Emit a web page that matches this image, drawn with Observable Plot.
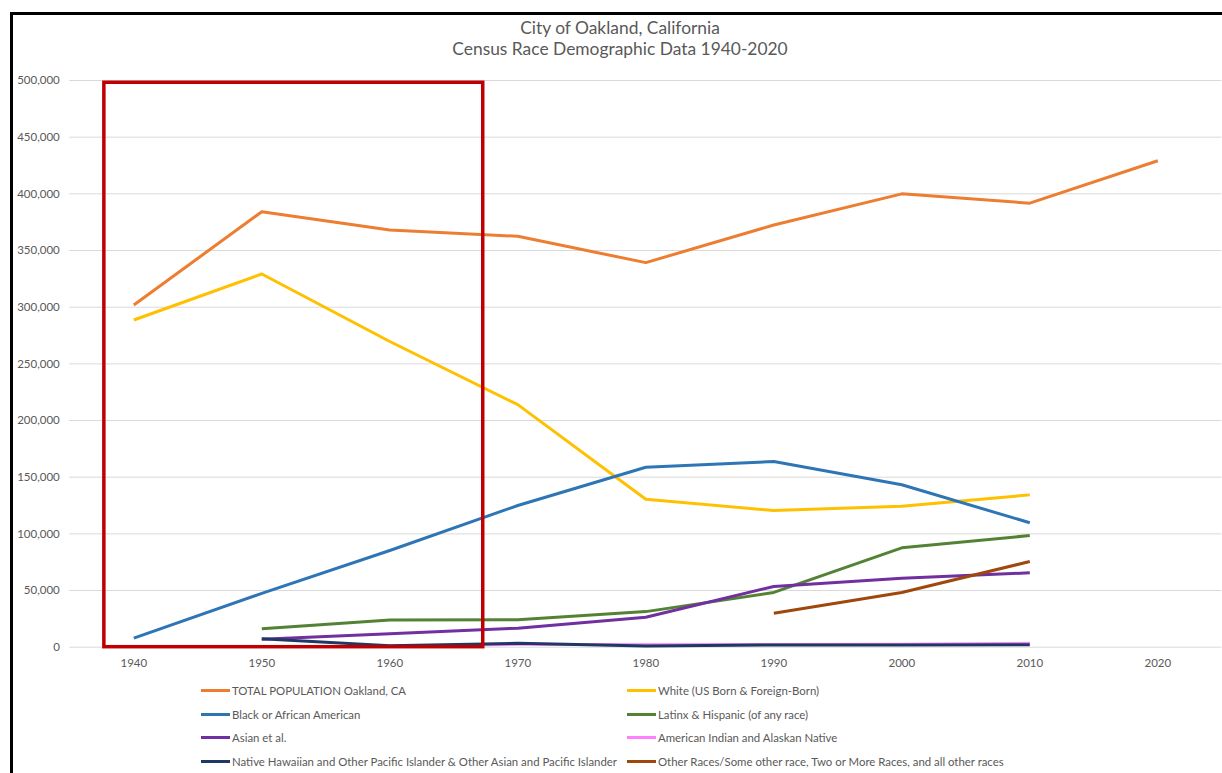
<!DOCTYPE html>
<html>
<head>
<meta charset="utf-8">
<script src="https://cdn.jsdelivr.net/npm/d3@7"></script>
<script src="https://cdn.jsdelivr.net/npm/@observablehq/plot@0.6"></script>
<style>
  html, body { margin: 0; padding: 0; background: #fff; }
  #page { position: relative; width: 1222px; height: 773px; overflow: hidden; background: #fff;
          font-family: Lato, "Open Sans", sans-serif; color: #595959; }
  #chart { position: absolute; left: 0; top: 0; }
  #frame { position: absolute; left: 10px; top: 12px; width: 1400px; height: 900px;
           border-left: 3px solid #000; border-top: 3px solid #000; pointer-events: none; }
  #title { position: absolute; left: 0; top: 17px; width: 1240px; text-align: center;
           font-size: 17.4px; line-height: 21px; }
  .item { position: absolute; height: 16px; display: flex; align-items: center;
          font-size: 11.4px; white-space: nowrap; }
  .swatch { width: 29px; height: 3px; margin-right: 2px; }
</style>
</head>
<body>
<div id="page">
  <div id="chart"></div>
  <div id="title">City of Oakland, California<br>Census Race Demographic Data 1940-2020</div>
  <div id="legend"></div>
  <div id="frame"></div>
</div>
<script>
// Census years
const years = [1940, 1950, 1960, 1970, 1980, 1990, 2000, 2010, 2020];

// Population by group (null = not reported that year)
const totalPop = [302000, 384200, 368000, 362500, 339300, 372500, 400000, 391800, 429200];
const white    = [288700, 329300, 269700, 214000, 130600, 120600, 124400, 134400, null];
const black    = [8000, 47500, 85300, 125000, 158800, 163800, 143300, 109800, null];
const latinx   = [null, 16200, 24000, 24200, 31400, 48300, 87700, 98500, null];
const asian    = [null, 7000, 11800, 16800, 26400, 53600, 60900, 65600, null];
const amIndian = [null, null, 1000, 2500, 2200, 2400, 2700, 3400, null];
const nhpi     = [null, 7400, 1300, 3500, 1000, 2000, 2000, 2200, null];
const otherRaces = [null, null, null, null, null, 30000, 48300, 75600, null];

const seriesNames = [
  "TOTAL POPULATION Oakland, CA",
  "White (US Born & Foreign-Born)",
  "Black or African American",
  "Latinx & Hispanic (of any race)",
  "Asian et al.",
  "American Indian and Alaskan Native",
  "Native Hawaiian and Other Pacific Islander & Other Asian and Pacific Islander",
  "Other Races/Some other race, Two or More Races, and all other races"
];
const seriesValues = [totalPop, white, black, latinx, asian, amIndian, nhpi, otherRaces];
const seriesColors = ["#ED7D31", "#FFC000", "#2E75B6", "#548235", "#7030A0", "#FF80FF", "#203864", "#9E480E"];

// Y axis tick values
const yTicks = [0, 50000, 100000, 150000, 200000, 250000, 300000, 350000, 400000, 450000, 500000];

// Highlighted span (1940s–1960s) outlined in red
const highlightYears = [1937.7, 1967.3];
const highlightTop = [498000];

// Long-format table for the line mark
const rows = [];
seriesNames.forEach((name, i) => {
  years.forEach((yr, j) => {
    const v = seriesValues[i][j];
    if (v != null) rows.push({series: name, year: yr, value: v});
  });
});

const fmtComma = d3.format(",");

const chart = Plot.plot({
  width: 1222,
  height: 680,
  marginLeft: 69.3,
  marginRight: 0.7,
  marginTop: 80,
  marginBottom: 33.3,
  style: {background: "transparent", fontFamily: "Lato, 'Open Sans', sans-serif", fontSize: "11.5px", color: "#595959"},
  x: {domain: [1935, 2025]},
  y: {domain: [0, 500000]},
  color: {domain: seriesNames, range: seriesColors},
  marks: [
    Plot.ruleY(yTicks, {stroke: "#D9D9D9", strokeWidth: 1}),
    Plot.axisY(yTicks, {tickSize: 0, tickPadding: 10, tickFormat: (d) => fmtComma(d), label: null}),
    Plot.axisX(years, {tickSize: 0, tickPadding: 12, tickFormat: (d) => String(d), label: null}),
    Plot.line(rows, {x: "year", y: "value", z: "series", stroke: "series",
                     strokeWidth: 3, strokeLinejoin: "round", strokeLinecap: "butt"}),
    Plot.rect([{x1: highlightYears[0], x2: highlightYears[1], y1: 0, y2: highlightTop[0]}],
              {x1: "x1", x2: "x2", y1: "y1", y2: "y2", fill: "none", stroke: "#C00000", strokeWidth: 3.5})
  ]
});
document.getElementById("chart").appendChild(chart);

// Legend: two columns, four rows
const legend = document.getElementById("legend");
const colX = [201, 627];
const rowY = [690.7, 714.3, 737.7, 761.7];
seriesNames.forEach((name, i) => {
  const item = document.createElement("div");
  item.className = "item";
  item.style.left = colX[i % 2] + "px";
  item.style.top = (rowY[Math.floor(i / 2)] - 8) + "px";
  const sw = document.createElement("span");
  sw.className = "swatch";
  sw.style.background = seriesColors[i];
  const tx = document.createElement("span");
  tx.textContent = name;
  item.appendChild(sw);
  item.appendChild(tx);
  legend.appendChild(item);
});
</script>
</body>
</html>
